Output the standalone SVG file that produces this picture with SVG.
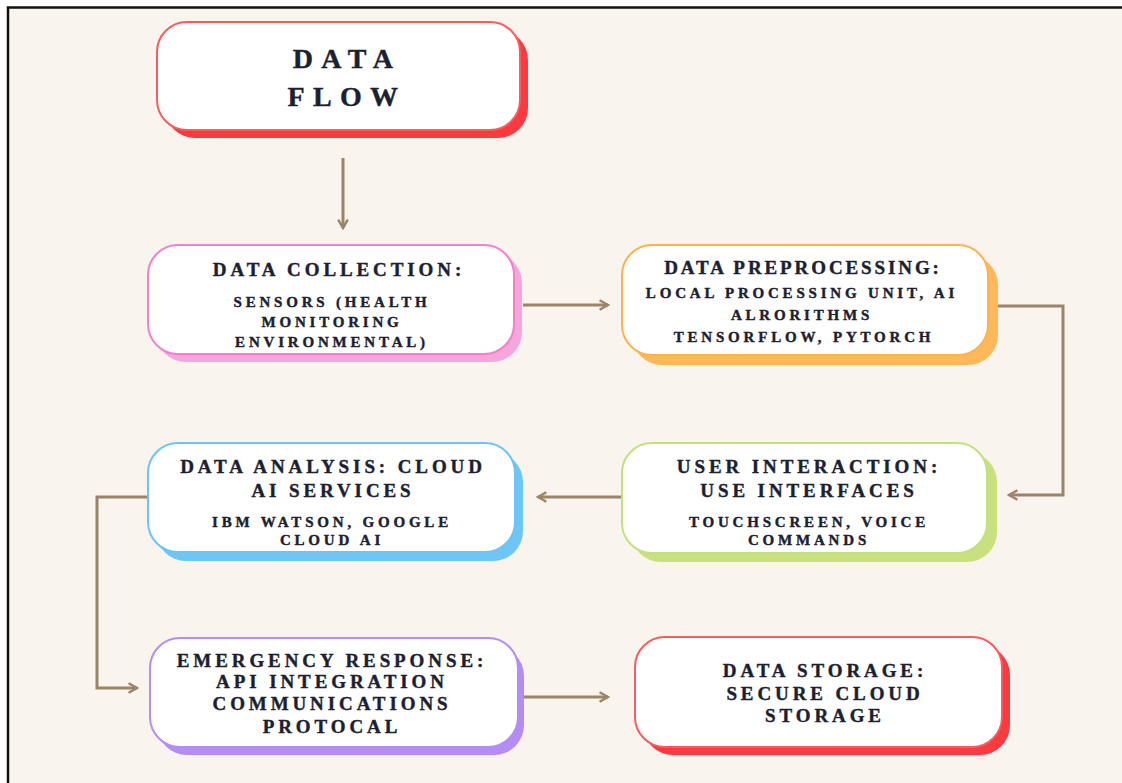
<svg xmlns="http://www.w3.org/2000/svg" width="1122" height="783" viewBox="0 0 1122 783">
  <defs>
    <style>
      .frame { fill: #f9f4ee; stroke: #111; stroke-width: 2.5; }
      .card { fill: #fff; stroke-width: 2; }
      .txt { font-family: "Liberation Serif", "Times New Roman", serif; font-weight: bold; fill: #1b2130; stroke: #1b2130; stroke-width: 0.4; text-anchor: middle; }
      .title { font-size: 28px; letter-spacing: 8.3px; }
      .head { font-size: 19px; letter-spacing: 3.9px; }
      .body { font-size: 15px; letter-spacing: 3.8px; }
      .wire { fill: none; stroke: #9b8468; stroke-width: 3; marker-end: url(#arrow); }
    </style>
    <marker id="arrow" viewBox="0 0 10 10" refX="8" refY="5" markerWidth="4" markerHeight="4" orient="auto" markerUnits="strokeWidth">
      <path d="M1,1 L8,5 L1,9" fill="none" stroke="#9b8468" stroke-width="2"/>
    </marker>
  </defs>

  <rect x="0" y="0" width="1122" height="783" fill="#ffffff"/>
  <rect class="frame" x="8" y="7.5" width="1130" height="790"/>

  <!-- connectors -->
  <g id="connectors">
    <path class="wire" d="M343,158 L343,228"/>
    <path class="wire" d="M523,305 L608,305"/>
    <path class="wire" d="M998,306 L1063,306 L1063,495 L1009,495"/>
    <path class="wire" d="M622,497 L538,497"/>
    <path class="wire" d="M148,497 L97,497 L97,688 L137,688"/>
    <path class="wire" d="M524,697 L608,697"/>
  </g>

  <!-- title -->
  <g id="node-title">
    <rect x="165" y="30" width="363" height="108" rx="30" fill="#fb3a3f"/>
    <rect class="card" x="157" y="22" width="363" height="108" rx="30" stroke="#fb5a5e"/>
    <text class="txt title" x="347" y="68">DATA</text>
    <text class="txt title" x="347" y="106">FLOW</text>
  </g>

  <!-- data collection -->
  <g id="node-collection">
    <rect x="156" y="253" width="366" height="109" rx="30" fill="#f6a6db"/>
    <rect class="card" x="148" y="245" width="366" height="109" rx="30" stroke="#f57fcf"/>
    <text class="txt head" x="339" y="276">DATA COLLECTION:</text>
    <text class="txt body" x="332" y="307">SENSORS (HEALTH</text>
    <text class="txt body" x="332" y="327">MONITORING</text>
    <text class="txt body" x="332" y="347">ENVIRONMENTAL)</text>
  </g>

  <!-- data preprocessing -->
  <g id="node-preprocessing">
    <rect x="632" y="255" width="366" height="110" rx="30" fill="#fdb85a"/>
    <rect class="card" x="622" y="245" width="366" height="110" rx="30" stroke="#ffb24a"/>
    <text class="txt head" x="803" y="274" style="letter-spacing:2.9px">DATA PREPROCESSING:</text>
    <text class="txt body" x="802" y="298">LOCAL PROCESSING UNIT, AI</text>
    <text class="txt body" x="802" y="320">ALRORITHMS</text>
    <text class="txt body" x="804" y="342">TENSORFLOW, PYTORCH</text>
  </g>

  <!-- user interaction -->
  <g id="node-user">
    <rect x="631" y="452" width="366" height="110" rx="30" fill="#c8e07e"/>
    <rect class="card" x="622" y="443" width="365" height="110" rx="30" stroke="#c4e07a"/>
    <text class="txt head" x="809" y="473">USER INTERACTION:</text>
    <text class="txt head" x="809" y="497">USE INTERFACES</text>
    <text class="txt body" x="809" y="527">TOUCHSCREEN, VOICE</text>
    <text class="txt body" x="809" y="545">COMMANDS</text>
  </g>

  <!-- data analysis -->
  <g id="node-analysis">
    <rect x="156" y="452" width="367" height="109" rx="30" fill="#6ec6f6"/>
    <rect class="card" x="148" y="443" width="367" height="109" rx="30" stroke="#6cc4f6"/>
    <text class="txt head" x="333" y="473">DATA ANALYSIS: CLOUD</text>
    <text class="txt head" x="333" y="497">AI SERVICES</text>
    <text class="txt body" x="332" y="527">IBM WATSON, GOOGLE</text>
    <text class="txt body" x="332" y="545">CLOUD AI</text>
  </g>

  <!-- emergency response -->
  <g id="node-emergency">
    <rect x="157" y="646" width="367" height="109" rx="30" fill="#b48cf3"/>
    <rect class="card" x="150" y="638" width="368" height="109" rx="30" stroke="#b48cf5"/>
    <text class="txt head" x="332" y="667">EMERGENCY RESPONSE:</text>
    <text class="txt head" x="332" y="688">API INTEGRATION</text>
    <text class="txt head" x="332" y="710">COMMUNICATIONS</text>
    <text class="txt head" x="332" y="733">PROTOCAL</text>
  </g>

  <!-- data storage -->
  <g id="node-storage">
    <rect x="643" y="645" width="367" height="110" rx="30" fill="#fb3a3f"/>
    <rect class="card" x="635" y="637" width="367" height="110" rx="30" stroke="#fb5a5e"/>
    <text class="txt head" x="825" y="677">DATA STORAGE:</text>
    <text class="txt head" x="825" y="700">SECURE CLOUD</text>
    <text class="txt head" x="825" y="722">STORAGE</text>
  </g>
</svg>
